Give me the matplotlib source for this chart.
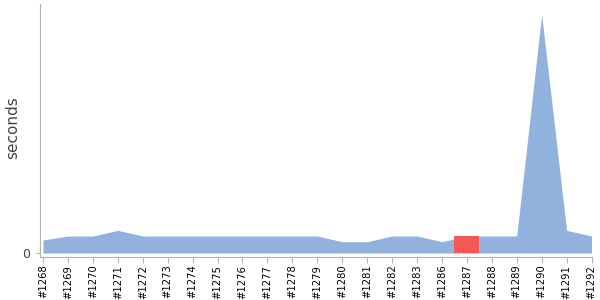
import matplotlib
matplotlib.use("Agg")
import matplotlib.pyplot as plt

builds = ["#1268", "#1269", "#1270", "#1271", "#1272", "#1273", "#1274", "#1275",
          "#1276", "#1277", "#1278", "#1279", "#1280", "#1281", "#1282", "#1283",
          "#1286", "#1287", "#1288", "#1289", "#1290", "#1291", "#1292"]
seconds = [2.3, 3, 3, 4, 3, 3, 3, 3,
           3, 3, 3, 3, 2, 2, 3, 3,
           2, 3, 3, 3, 42, 4, 3]
failed = ["#1287"]

blue = "#90b2dc"
red = "#f55656"
grey = "#b4b4b4"

fig = plt.figure(figsize=(6, 3), dpi=100)
ax = fig.add_axes([0.0667, 0.1433, 0.92, 0.8434])

x = list(range(len(builds)))
ax.fill_between(x, 0, seconds, color=blue, linewidth=0)

# failed builds are drawn as a band around their point
for b in failed:
    i = builds.index(b)
    ax.fill_between([i - 0.5, i + 0.5], 0, seconds[i], color=red, linewidth=0)

ax.set_xlim(-0.12, len(builds) - 1 + 0.02)
ax.set_ylim(-0.7, 43.9)

ax.set_xticks(x)
ax.set_xticklabels(builds, rotation=90, fontsize=7.2, color="black")
ax.set_yticks([0])
ax.set_yticklabels(["0"], fontsize=9, color="#444444")
ax.tick_params(axis="x", length=4, color=grey, pad=1.5)
ax.tick_params(axis="y", length=3, color=grey, pad=4)

ax.set_ylabel("seconds", fontsize=11, color="#444444")
ax.yaxis.set_label_coords(-0.036, 0.51)

for s in ["top", "right"]:
    ax.spines[s].set_visible(False)
for s in ["left", "bottom"]:
    ax.spines[s].set_color(grey)

fig.savefig("out.png", dpi=100)
